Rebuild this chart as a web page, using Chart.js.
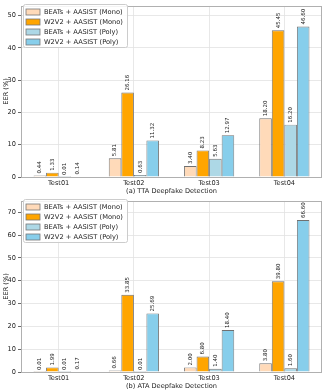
<!DOCTYPE html>
<html><head><meta charset="utf-8">
<script src="https://cdn.jsdelivr.net/npm/chart.js@4.4.0/dist/chart.umd.min.js"></script>
<style>
html,body{margin:0;padding:0;background:#fff;}
#wrap{width:325px;height:390px;}
.box{position:relative;width:325px;height:195px;}
</style></head>
<body>
<div id="wrap">
<div class="box"><canvas id="c1"></canvas></div>
<div class="box"><canvas id="c2"></canvas></div>
</div>
<script>
const categories = ["Test01", "Test02", "Test03", "Test04"];
const seriesLabels = ["BEATs + AASIST (Mono)", "W2V2 + AASIST (Mono)", "BEATs + AASIST (Poly)", "W2V2 + AASIST (Poly)"];
const seriesColors = ["#FFDAB9", "#FFA500", "#ADD8E6", "#87CEEB"];
// (a) TTA
const ttaBeatsMono = [0.44, 5.81, 3.40, 18.20];
const ttaW2v2Mono = [1.33, 26.16, 8.23, 45.45];
const ttaBeatsPoly = [0.01, 0.63, 5.63, 16.20];
const ttaW2v2Poly = [0.14, 11.32, 12.97, 46.60];
// (b) ATA
const ataBeatsMono = [0.01, 0.66, 2.00, 3.80];
const ataW2v2Mono = [1.99, 33.85, 6.80, 39.80];
const ataBeatsPoly = [0.01, 0.01, 1.40, 1.60];
const ataW2v2Poly = [0.17, 25.69, 18.40, 66.60];
const ttaTicks = [0, 10, 20, 30, 40, 50];
const ataTicks = [0, 10, 20, 30, 40, 50, 60, 70];

const FONT = "'DejaVu Sans', sans-serif";

const valueLabels = {
  id: 'valueLabels',
  afterDatasetsDraw(chart) {
    const ctx = chart.ctx;
    ctx.save();
    ctx.font = "5.5px " + FONT;
    ctx.fillStyle = "#222";
    ctx.textAlign = "left";
    ctx.textBaseline = "middle";
    chart.data.datasets.forEach((ds, di) => {
      const meta = chart.getDatasetMeta(di);
      meta.data.forEach((bar, i) => {
        ctx.save();
        ctx.translate(bar.x, bar.y - 2);
        ctx.rotate(-Math.PI / 2);
        ctx.fillText(ds.data[i].toFixed(2), 0, 0);
        ctx.restore();
      });
    });
    ctx.restore();
  }
};

const frameAndLegend = {
  id: 'frameAndLegend',
  afterDraw(chart) {
    const ctx = chart.ctx;
    const a = chart.chartArea;
    ctx.save();
    ctx.strokeStyle = "#b0b0b0";
    ctx.lineWidth = 1;
    ctx.strokeRect(Math.round(a.left) + 0.5, Math.round(a.top) + 0.5, Math.round(a.right - a.left) - 1, Math.round(a.bottom - a.top));
    // legend
    const lx = a.left + 2, ly = 4, lw = 104, lh = 43;
    ctx.fillStyle = "rgba(255,255,255,0.85)";
    ctx.strokeStyle = "#cccccc";
    ctx.beginPath();
    ctx.roundRect(lx + 0.5, ly + 0.5, lw, lh, 2);
    ctx.fill();
    ctx.stroke();
    ctx.font = "6.7px " + FONT;
    ctx.textBaseline = "middle";
    ctx.textAlign = "left";
    chart.data.datasets.forEach((ds, i) => {
      const cy = 12 + i * 10;
      ctx.fillStyle = ds.backgroundColor;
      ctx.fillRect(lx + 3, cy - 3, 14, 6);
      ctx.strokeStyle = "#777";
      ctx.lineWidth = 0.8;
      ctx.strokeRect(lx + 3, cy - 3, 14, 6);
      ctx.fillStyle = "#222";
      ctx.fillText(ds.label, lx + 21, cy + 0.5);
    });
    ctx.restore();
  }
};

function makeChart(id, arrays, ymax, ticks, caption) {
  new Chart(document.getElementById(id), {
    type: 'bar',
    data: {
      labels: categories,
      datasets: arrays.map((d, i) => ({
        label: seriesLabels[i],
        data: d,
        backgroundColor: seriesColors[i],
        borderColor: "#707070",
        borderWidth: 0.9,
        categoryPercentage: 0.667,
        barPercentage: 1.0
      }))
    },
    options: {
      responsive: false,
      animation: false,
      devicePixelRatio: 1,
      layout: { padding: { left: 2, right: 3, top: 1, bottom: 0 } },
      plugins: { legend: { display: false }, tooltip: { enabled: false } },
      scales: {
        x: {
          offset: true,
          grid: { offset: false, color: "#e2e2e2", lineWidth: 0.8, drawTicks: false },
          border: { display: false },
          ticks: { font: { family: FONT, size: 6.6 }, color: "#222", padding: 2, maxRotation: 0 },
          title: { display: true, text: caption, font: { family: FONT, size: 6.6 }, color: "#222", padding: { top: 0, bottom: 0 } },
          afterFit(s) { s.height = 18; }
        },
        y: {
          min: 0, max: ymax,
          grid: { color: "#e2e2e2", lineWidth: 0.8, tickLength: 3, tickColor: "#444" },
          border: { display: false },
          ticks: { stepSize: 10, font: { family: FONT, size: 6.6 }, color: "#222", padding: 2 },
          afterBuildTicks(s) { s.ticks = ticks.map(v => ({ value: v })); },
          title: { display: true, text: "EER (%)", font: { family: FONT, size: 6.6 }, color: "#222", padding: { top: 0, bottom: 0 } },
          afterFit(s) { s.width = 19; }
        }
      }
    },
    plugins: [valueLabels, frameAndLegend]
  });
}
const c1 = document.getElementById('c1'); c1.width = 325; c1.height = 195;
const c2 = document.getElementById('c2'); c2.width = 325; c2.height = 195;
makeChart('c1', [ttaBeatsMono, ttaW2v2Mono, ttaBeatsPoly, ttaW2v2Poly], 53, ttaTicks, "(a) TTA Deepfake Detection");
makeChart('c2', [ataBeatsMono, ataW2v2Mono, ataBeatsPoly, ataW2v2Poly], 75, ataTicks, "(b) ATA Deepfake Detection");
</script>
</body></html>
